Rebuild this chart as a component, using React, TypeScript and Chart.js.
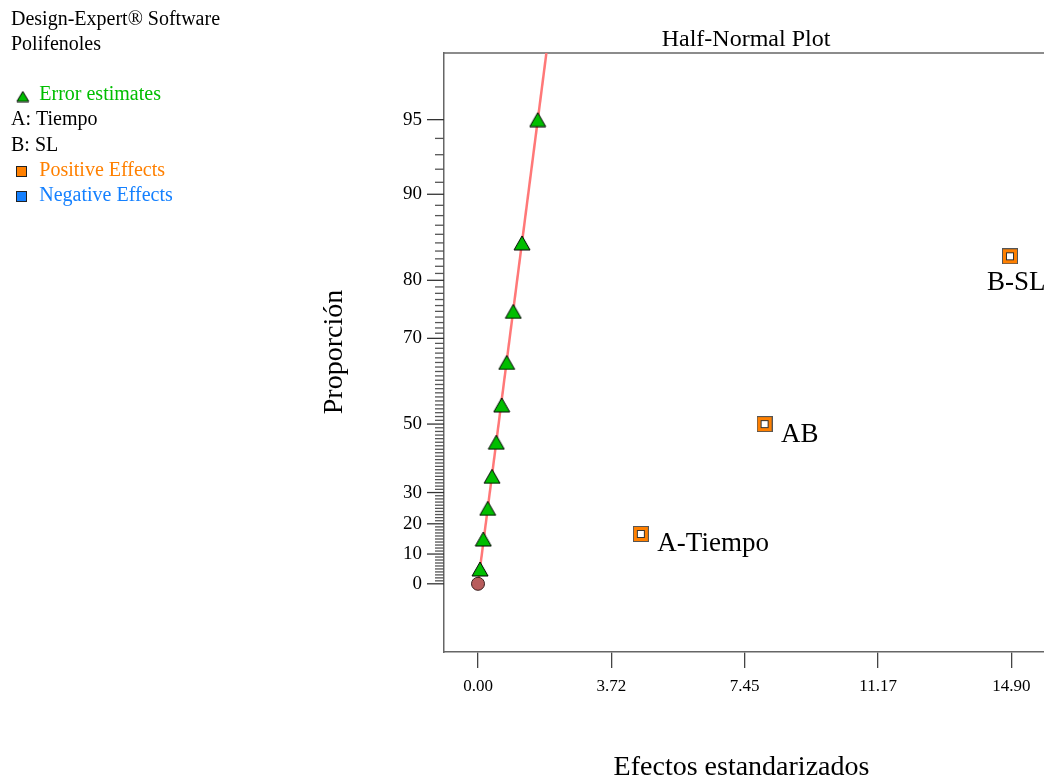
import React, { useEffect, useRef } from 'react';
import { Chart, registerables } from 'chart.js';

Chart.register(...registerables);

// Standardized effects of the error estimates and their half-normal proportions (%)
const errorEffects = [0.056, 0.148, 0.271, 0.391, 0.511, 0.662, 0.802, 0.986, 1.229, 1.668];
const errorProportions = [5, 15, 25, 35, 45, 55, 65, 75, 85, 95];

// Model terms (all positive effects)
const effectNames = ['A-Tiempo', 'AB', 'B-SL'];
const effectValues = [4.549, 8.005, 14.86];
const effectProportions = [16.67, 50, 83.33];
const effectLabelPlacement = ['right', 'right', 'below'];

// Reference line through the error estimates
const fitLineEffects = [0, 1.91];
const fitLineProportions = [0, 97.5];

// Origin marker
const originEffects = [0];
const originProportions = [0];

// Axis ticks
const xTickValues = [0, 3.725, 7.45, 11.175, 14.9];
const xTickLabels = ['0.00', '3.72', '7.45', '11.17', '14.90'];
const yMajorTicks = [0, 10, 20, 30, 50, 70, 80, 90, 95];
const yMinorTickMax = 94;

const SERIF = '"Liberation Serif", "Times New Roman", Times, serif';

// Inverse standard normal CDF (Acklam's approximation)
function probit(p: number): number {
  const a = [-3.969683028665376e1, 2.209460984245205e2, -2.759285104469687e2, 1.38357751867269e2, -3.066479806614716e1, 2.506628277459239];
  const b = [-5.447609879822406e1, 1.615858368580409e2, -1.556989798598866e2, 6.680131188771972e1, -1.328068155288572e1];
  const c = [-7.784894002430293e-3, -3.223964580411365e-1, -2.400758277161838, -2.549732539343734, 4.374664141464968, 2.938163982698783];
  const d = [7.784695709041462e-3, 3.224671290700398e-1, 2.445134137142996, 3.754408661907416];
  const plow = 0.02425;
  const phigh = 1 - plow;
  if (p < plow) {
    const q = Math.sqrt(-2 * Math.log(p));
    return (((((c[0] * q + c[1]) * q + c[2]) * q + c[3]) * q + c[4]) * q + c[5]) / ((((d[0] * q + d[1]) * q + d[2]) * q + d[3]) * q + 1);
  }
  if (p <= phigh) {
    const q = p - 0.5;
    const r = q * q;
    return ((((((a[0] * r + a[1]) * r + a[2]) * r + a[3]) * r + a[4]) * r + a[5]) * q) / (((((b[0] * r + b[1]) * r + b[2]) * r + b[3]) * r + b[4]) * r + 1);
  }
  const q = Math.sqrt(-2 * Math.log(1 - p));
  return -(((((c[0] * q + c[1]) * q + c[2]) * q + c[3]) * q + c[4]) * q + c[5]) / ((((d[0] * q + d[1]) * q + d[2]) * q + d[3]) * q + 1);
}

// Half-normal quantile for a proportion given in percent
const halfNormalZ = (pct: number) => probit(0.5 + pct / 200);

const GREEN = 'rgb(0,190,0)';
const ORANGE = 'rgb(255,128,0)';
const BLUE = 'rgb(20,128,255)';

function makeTriangle(w: number, h: number): HTMLCanvasElement {
  const c = document.createElement('canvas');
  c.width = w + 2;
  c.height = h + 2;
  const ctx = c.getContext('2d')!;
  ctx.beginPath();
  ctx.moveTo(c.width / 2, 1);
  ctx.lineTo(c.width - 1, c.height - 1);
  ctx.lineTo(1, c.height - 1);
  ctx.closePath();
  ctx.fillStyle = GREEN;
  ctx.fill();
  ctx.strokeStyle = '#000';
  ctx.lineWidth = 1;
  ctx.stroke();
  return c;
}

function makeEffectSquare(): HTMLCanvasElement {
  const c = document.createElement('canvas');
  c.width = 16;
  c.height = 16;
  const ctx = c.getContext('2d')!;
  ctx.fillStyle = '#555';
  ctx.fillRect(0, 0, 16, 16);
  ctx.fillStyle = ORANGE;
  ctx.fillRect(1, 1, 14, 14);
  ctx.fillStyle = '#333';
  ctx.fillRect(4, 4, 8, 8);
  ctx.fillStyle = '#fff';
  ctx.fillRect(5, 5, 6, 6);
  return c;
}

export default function App() {
  const canvasRef = useRef<HTMLCanvasElement | null>(null);

  useEffect(() => {
    const canvas = canvasRef.current;
    if (!canvas) return;

    const triangle = makeTriangle(16, 14);
    const legendTriangle = makeTriangle(12, 10);
    const square = makeEffectSquare();

    const yTickPercents: number[] = [];
    for (let p = 0; p <= yMinorTickMax; p++) yTickPercents.push(p);
    yTickPercents.push(95);

    const decor = {
      id: 'decor',
      beforeDatasetsDraw(chart: any) {
        const { ctx, chartArea, scales } = chart;
        const ys = scales.y;
        ctx.save();
        // top frame line
        ctx.strokeStyle = '#666';
        ctx.lineWidth = 1.5;
        ctx.beginPath();
        ctx.moveTo(chartArea.left, chartArea.top);
        ctx.lineTo(chartArea.right, chartArea.top);
        ctx.stroke();
        // proportion tick marks (long for labelled values)
        ctx.lineWidth = 1.3;
        yTickPercents.forEach((p) => {
          const y = ys.getPixelForValue(halfNormalZ(p));
          const major = yMajorTicks.includes(p);
          ctx.strokeStyle = major ? '#333' : '#555';
          ctx.beginPath();
          ctx.moveTo(chartArea.left - (major ? 17 : 9), y);
          ctx.lineTo(chartArea.left, y);
          ctx.stroke();
        });
        ctx.restore();
      },
      afterDatasetsDraw(chart: any) {
        const { ctx } = chart;
        const meta = chart.getDatasetMeta(0);
        ctx.save();
        ctx.font = `27px ${SERIF}`;
        ctx.fillStyle = '#000';
        ctx.textBaseline = 'alphabetic';
        ctx.textAlign = 'left';
        meta.data.forEach((pt: any, i: number) => {
          if (effectLabelPlacement[i] === 'below') {
            ctx.fillText(effectNames[i], pt.x - 23, pt.y + 34);
          } else {
            ctx.fillText(effectNames[i], pt.x + 16.5, pt.y + 17.5);
          }
        });
        ctx.restore();
      },
      afterDraw(chart: any) {
        const { ctx, chartArea } = chart;
        ctx.save();
        ctx.textBaseline = 'alphabetic';
        ctx.textAlign = 'left';
        ctx.font = `20px ${SERIF}`;
        ctx.fillStyle = '#000';
        ctx.fillText('Design-Expert® Software', 11, 25);
        ctx.fillText('Polifenoles', 11, 50);

        ctx.drawImage(legendTriangle, 22.8 - legendTriangle.width / 2, 96.5 - legendTriangle.height / 2);
        ctx.fillStyle = GREEN;
        ctx.fillText('Error estimates', 39.3, 100);
        ctx.fillStyle = '#000';
        ctx.fillText('A: Tiempo', 11, 125.3);
        ctx.fillText('B: SL', 11, 150.7);

        ctx.lineWidth = 1;
        ctx.strokeStyle = '#222';
        ctx.fillStyle = ORANGE;
        ctx.fillRect(16.5, 166.5, 10, 10);
        ctx.strokeRect(16.5, 166.5, 10, 10);
        ctx.fillText('Positive Effects', 39.3, 175.7);
        ctx.fillStyle = BLUE;
        ctx.fillRect(16.5, 191.5, 10, 10);
        ctx.strokeRect(16.5, 191.5, 10, 10);
        ctx.fillText('Negative Effects', 39.3, 201);

        // plot title
        ctx.fillStyle = '#000';
        ctx.textAlign = 'center';
        ctx.font = `24px ${SERIF}`;
        ctx.fillText('Half-Normal Plot', 746, 46);

        // axis titles
        ctx.font = `28px ${SERIF}`;
        ctx.fillText('Efectos estandarizados', 741.5, 775);
        ctx.translate(341.5, (chartArea.top + chartArea.bottom) / 2 - 0.5);
        ctx.rotate(-Math.PI / 2);
        ctx.fillText('Proporción', 0, 0);
        ctx.restore();
      },
    };

    const chart = new Chart(canvas, {
      type: 'scatter',
      data: {
        datasets: [
          {
            label: 'Positive Effects',
            data: effectValues.map((x, i) => ({ x, y: halfNormalZ(effectProportions[i]) })),
            pointStyle: square as any,
            pointRadius: 8,
            order: 0,
          },
          {
            label: 'Error estimates',
            data: errorEffects.map((x, i) => ({ x, y: halfNormalZ(errorProportions[i]) })),
            pointStyle: triangle as any,
            pointRadius: 8,
            order: 1,
          },
          {
            label: 'Origin',
            data: originEffects.map((x, i) => ({ x, y: halfNormalZ(originProportions[i]) })),
            pointStyle: 'circle',
            pointRadius: 6.5,
            backgroundColor: 'rgb(184,92,92)',
            borderColor: '#3a2020',
            borderWidth: 1,
            order: 2,
          },
          {
            type: 'line',
            label: 'Fit',
            data: fitLineEffects.map((x, i) => ({ x, y: halfNormalZ(fitLineProportions[i]) })),
            borderColor: 'rgb(255,120,120)',
            borderWidth: 2.5,
            pointRadius: 0,
            fill: false,
            tension: 0,
            order: 3,
          } as any,
        ],
      },
      options: {
        responsive: false,
        animation: false,
        events: [],
        layout: { autoPadding: false, padding: { top: 53, left: 0, right: 0, bottom: 0 } },
        plugins: {
          legend: { display: false },
          tooltip: { enabled: false },
          title: { display: false },
        },
        scales: {
          x: {
            type: 'linear',
            min: -0.95,
            max: 15.81,
            afterBuildTicks: (scale: any) => {
              scale.ticks = xTickValues.map((v) => ({ value: v }));
            },
            afterFit: (scale: any) => {
              scale.height = 128;
              scale.paddingLeft = 0;
              scale.paddingRight = 0;
            },
            grid: {
              display: true,
              drawOnChartArea: false,
              drawTicks: true,
              tickLength: 16,
              color: '#444',
              lineWidth: 1.3,
            },
            border: { display: true, color: '#666', width: 1.5 },
            ticks: {
              autoSkip: false,
              maxRotation: 0,
              padding: 8,
              color: '#000',
              font: { family: SERIF, size: 17 },
              callback: (_v: any, i: number) => xTickLabels[i],
            },
          },
          y: {
            type: 'linear',
            min: -0.288,
            max: halfNormalZ(97.5),
            afterBuildTicks: (scale: any) => {
              scale.ticks = yTickPercents.map((p) => ({ value: halfNormalZ(p) }));
            },
            afterFit: (scale: any) => {
              scale.width = 444;
              scale.paddingTop = 0;
              scale.paddingBottom = 0;
            },
            grid: { display: false, drawTicks: false, tickLength: 0 },
            border: { display: true, color: '#666', width: 1.5 },
            ticks: {
              autoSkip: false,
              padding: 22,
              color: '#000',
              font: { family: SERIF, size: 19 },
              callback: (_v: any, i: number) => {
                const p = yTickPercents[i];
                return yMajorTicks.includes(p) ? String(p) : '';
              },
            },
          },
        },
      },
      plugins: [decor],
    });

    return () => chart.destroy();
  }, []);

  return (
    <div style={{ position: 'fixed', left: 0, top: 0, width: 1044, height: 780, background: '#fff' }}>
      <canvas ref={canvasRef} width={1044} height={780} style={{ display: 'block', width: 1044, height: 780 }} />
    </div>
  );
}
